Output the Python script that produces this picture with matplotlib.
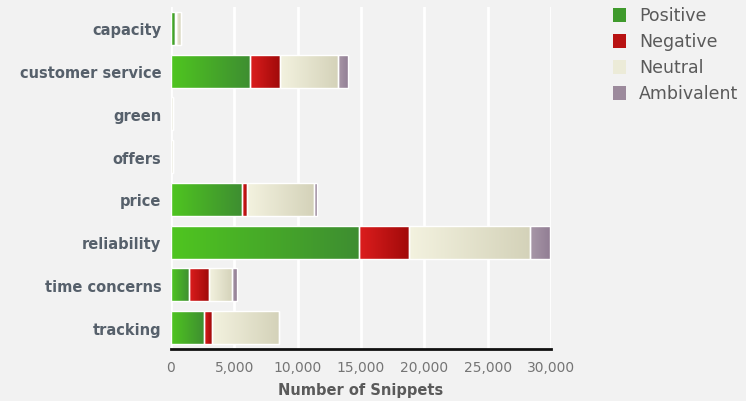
import numpy as np
import matplotlib.pyplot as plt
from matplotlib.colors import LinearSegmentedColormap
from matplotlib.patches import Rectangle

categories = ['capacity', 'customer service', 'green', 'offers', 'price',
              'reliability', 'time concerns', 'tracking']
positive = [280, 6250, 0, 0, 5590, 14810, 1450, 2610]
negative = [150, 2320, 0, 0, 400, 3950, 1530, 630]
neutral = [330, 4590, 150, 150, 5300, 9620, 1870, 5320]
ambivalent = [0, 790, 0, 0, 240, 1530, 340, 0]
series_names = ['Positive', 'Negative', 'Neutral', 'Ambivalent']
xticks = [0, 5000, 10000, 15000, 20000, 25000, 30000]

# left -> right gradient colours per series
gradients = [('#4fc520', '#3e8e31'),
             ('#dc1d1d', '#a10a0a'),
             ('#f3f2df', '#d4d2b9'),
             ('#a898a8', '#927e94')]
swatch = ['#3f9a2c', '#b81212', '#ecebd8', '#9c8a9c']

bg = '#f2f2f2'
fig = plt.figure(figsize=(7.46, 4.02), dpi=100, facecolor=bg)
ax = fig.add_axes([0.2292, 0.1294, 0.5094, 0.8507])
ax.set_facecolor(bg)

y = np.arange(len(categories))
left = np.zeros(len(categories))
grad = np.linspace(0, 1, 64).reshape(1, -1)

for vals, (c0, c1) in zip([positive, negative, neutral, ambivalent], gradients):
    cmap = LinearSegmentedColormap.from_list('g', [c0, c1])
    bars = ax.barh(y, vals, left=left, height=0.77, color='none',
                   edgecolor='white', linewidth=1, zorder=3)
    for rect, v in zip(bars, vals):
        if v <= 0:
            continue
        x0 = rect.get_x()
        y0 = rect.get_y()
        im = ax.imshow(grad, cmap=cmap, aspect='auto', zorder=2,
                       extent=[x0, x0 + rect.get_width(), y0 + rect.get_height(), y0])
        im.set_clip_path(rect)
    left += np.array(vals)

ax.set_xlim(0, 30000)
ax.set_ylim(len(categories) - 0.5, -0.5)
ax.set_yticks(y)
ax.set_yticklabels(categories, fontsize=10.5, color='#56606b', fontweight='bold')
ax.set_xticks(xticks)
ax.set_xticklabels([f'{t:,}' for t in xticks], fontsize=10, color='#757575')
ax.tick_params(axis='y', length=0, pad=7)
ax.tick_params(axis='x', length=0, pad=8)
ax.grid(axis='x', color='white', linewidth=2, zorder=0)
ax.set_axisbelow(True)
for s in ['top', 'right', 'left']:
    ax.spines[s].set_visible(False)
ax.spines['bottom'].set_color('#111111')
ax.spines['bottom'].set_linewidth(2)
ax.set_xlabel('Number of Snippets', fontsize=10.5, color='#5a5a5a',
              fontweight='bold', labelpad=6)

# legend, top right
W, H = 746, 402
for i, (name, col) in enumerate(zip(series_names, swatch)):
    yc = 16 + i * 26
    fig.add_artist(Rectangle((613 / W, 1 - (yc + 7) / H), 13 / W, 14 / H,
                             transform=fig.transFigure, facecolor=col,
                             edgecolor='none'))
    fig.text(639 / W, 1 - yc / H, name, fontsize=12.5, color='#5a5a5a',
             va='center', ha='left')

fig.savefig('out.png', dpi=100, facecolor=bg)
